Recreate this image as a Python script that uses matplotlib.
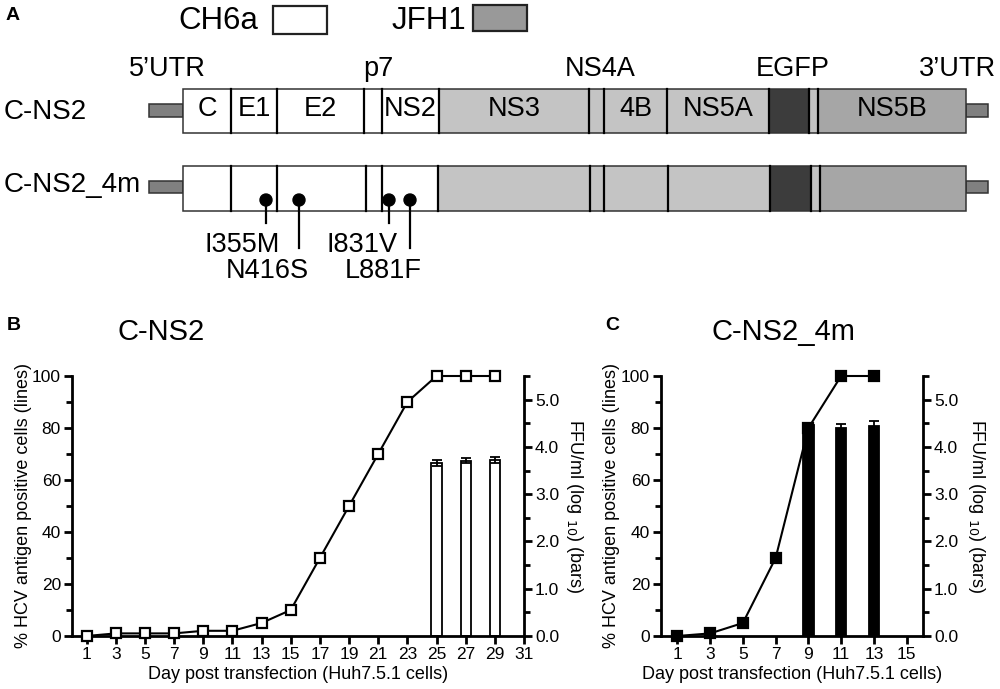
import matplotlib
matplotlib.use("Agg")
import matplotlib.pyplot as plt
from matplotlib.patches import Rectangle, Circle
from matplotlib.ticker import MultipleLocator, FormatStrFormatter

plt.rcParams['font.family'] = ['Liberation Sans', 'DejaVu Sans']

# ---------------- data ----------------
# Panel B (C-NS2)
days_b = [1, 3, 5, 7, 9, 11, 13, 15, 17, 19, 21, 23, 25, 27, 29]
pct_b = [0, 1, 1, 1, 2, 2, 5, 10, 30, 50, 70, 90, 100, 100, 100]
bar_days_b = [25, 27, 29]
ffu_b = [3.66, 3.71, 3.73]
ffu_err_b = [0.06, 0.06, 0.06]
xticks_b = list(range(1, 32, 2))

# Panel C (C-NS2_4m)
days_c = [1, 3, 5, 7, 9, 11, 13]
pct_c = [0, 1, 5, 30, 80, 100, 100]
bar_days_c = [9, 11, 13]
ffu_c = [4.46, 4.41, 4.45]
ffu_err_c = [0.0, 0.07, 0.09]
xticks_c = list(range(1, 16, 2))

# Panel A schematic (positions along the construct, in figure pixels)
seg_names = ["C", "E1", "E2", "", "NS2", "NS3", "", "4B", "NS5A", "", "", "NS5B"]
seg_colors = ["white"] * 5 + ["#c4c4c4"] * 4 + ["#3c3c3c", "#c4c4c4", "#a6a6a6"]
bounds_1 = [183, 231, 277, 364, 382, 439, 589, 604, 667, 769, 809, 818, 966]
bounds_2 = [183, 231, 277, 366, 382, 438, 590, 604, 668, 770, 811, 820, 966]
top_labels = ["5\u2019UTR", "p7", "NS4A", "EGFP", "3\u2019UTR"]
top_label_x = [167, 378, 600, 793, 957]
mut_names = ["I355M", "N416S", "I831V", "L881F"]
mut_x = [266, 299, 389, 410]
mut_line_end = [223, 248, 223, 248]
mut_label_x = [242, 267, 362, 383]
mut_label_y = [245, 271, 245, 271]

W, H = 1000, 689
fig = plt.figure(figsize=(W / 100, H / 100), dpi=100)

# ---------------- Panel A ----------------
axA = fig.add_axes([0, 0, 1, 1])
axA.set_xlim(0, W)
axA.set_ylim(H, 0)
axA.axis('off')

fs = 19.5
edge = "#333333"

def draw_row(bounds, y0, y1, names, stub_y0, stub_y1):
    # UTR stubs
    axA.add_patch(Rectangle((149, stub_y0), bounds[0] - 149, stub_y1 - stub_y0,
                            facecolor="#808080", edgecolor=edge, lw=1.1))
    axA.add_patch(Rectangle((bounds[-1], stub_y0), 988 - bounds[-1], stub_y1 - stub_y0,
                            facecolor="#808080", edgecolor=edge, lw=1.1))
    for i in range(len(bounds) - 1):
        axA.add_patch(Rectangle((bounds[i], y0), bounds[i + 1] - bounds[i], y1 - y0,
                                facecolor=seg_colors[i], edgecolor=edge, lw=1.1))
        if i > 0:
            axA.plot([bounds[i], bounds[i]], [y0, y1], color="black", lw=1.6)
        if names is not None and names[i]:
            axA.text((bounds[i] + bounds[i + 1]) / 2, (y0 + y1) / 2 - 2, names[i],
                     ha='center', va='center', fontsize=fs)

draw_row(bounds_1, 89, 133, seg_names, 104, 117)
draw_row(bounds_2, 166, 211, None, 181, 193)

for t, x in zip(top_labels, top_label_x):
    axA.text(x, 69, t, ha='center', va='center', fontsize=fs)

axA.text(4, 112, "C-NS2", ha='left', va='center', fontsize=20)
axA.text(4, 185, "C-NS2_4m", ha='left', va='center', fontsize=20)

for x, ye, lx, ly, name in zip(mut_x, mut_line_end, mut_label_x, mut_label_y, mut_names):
    axA.plot([x, x], [200, ye], color="black", lw=1.6)
    axA.add_patch(Circle((x, 200), 6, facecolor="black", edgecolor="black"))
    axA.text(lx, ly, name, ha='center', va='center', fontsize=fs)

# legend
axA.text(178, 21, "CH6a", ha='left', va='center', fontsize=22.5)
axA.add_patch(Rectangle((273, 6), 54, 28, facecolor="white", edgecolor="#222222", lw=1.6))
axA.text(392, 21, "JFH1", ha='left', va='center', fontsize=22.5)
axA.add_patch(Rectangle((473, 5), 54, 26, facecolor="#999999", edgecolor="#222222", lw=1.6))

axA.text(6, 15, "A", ha='left', va='center', fontsize=14, fontweight='bold')
axA.text(7, 325, "B", ha='left', va='center', fontsize=14, fontweight='bold')
axA.text(605, 325, "C", ha='left', va='center', fontsize=14, fontweight='bold')
axA.text(161, 332, "C-NS2", ha='center', va='center', fontsize=21)
axA.text(783, 332, "C-NS2_4m", ha='center', va='center', fontsize=21)

# ---------------- Panels B & C ----------------
def make_panel(x0, x1, xmax, xticks, days, pct, bdays, ffu, ferr,
               filled, bar_w, ylab_x, rlab_x):
    ax = fig.add_axes([x0 / W, 1 - 636 / H, (x1 - x0) / W, 260 / H])
    ax2 = ax.twinx()
    ax2.bar(bdays, ffu, width=bar_w, yerr=ferr, capsize=3.5,
            color="black" if filled else "white", edgecolor="black", lw=1.3,
            error_kw=dict(ecolor="black", elinewidth=1.3, capthick=1.3))
    ax.plot(days, pct, color="black", lw=1.5, marker='s', markersize=7.5,
            markerfacecolor="black" if filled else "white",
            markeredgecolor="black", markeredgewidth=1.6, clip_on=False, zorder=5)
    ax.set_zorder(ax2.get_zorder() + 1)
    ax.patch.set_visible(False)

    ax.set_xlim(0, xmax)
    ax.set_ylim(0, 100)
    ax2.set_ylim(0, 5.5)
    ax.set_xticks(xticks)
    ax.yaxis.set_major_locator(MultipleLocator(20))
    ax.yaxis.set_minor_locator(MultipleLocator(10))
    ax2.yaxis.set_major_locator(MultipleLocator(1))
    ax2.yaxis.set_minor_locator(MultipleLocator(0.5))
    ax2.yaxis.set_major_formatter(FormatStrFormatter('%.1f'))

    for a in (ax, ax2):
        a.spines['top'].set_visible(False)
        for s in ('left', 'right', 'bottom'):
            a.spines[s].set_linewidth(2)
        a.tick_params(which='major', direction='out', length=6, width=2, labelsize=12.5, pad=2)
        a.tick_params(which='minor', direction='out', length=4, width=2)
    ax.spines['right'].set_visible(False)
    ax2.spines['left'].set_visible(False)
    ax2.spines['bottom'].set_visible(False)

    ax.set_xlabel("Day post transfection (Huh7.5.1 cells)", fontsize=13, labelpad=3)
    ax.set_ylabel("% HCV antigen positive cells (lines)", fontsize=13,
                  ha='center', va='center')
    ax.yaxis.set_label_coords((ylab_x - x0) / (x1 - x0), 0.5)
    ax2.set_ylabel("FFU/ml (log $_{10}$) (bars)", fontsize=13, rotation=-90,
                   ha='center', va='center')
    ax2.yaxis.set_label_coords((rlab_x - x0) / (x1 - x0), 0.5)
    return ax, ax2

make_panel(72, 524, 31, xticks_b, days_b, pct_b, bar_days_b, ffu_b, ffu_err_b,
           False, 0.7, 24, 575)
make_panel(661, 923, 16, xticks_c, days_c, pct_c, bar_days_c, ffu_c, ffu_err_c,
           True, 0.65, 612, 977)

fig.savefig("out.png", dpi=100)
